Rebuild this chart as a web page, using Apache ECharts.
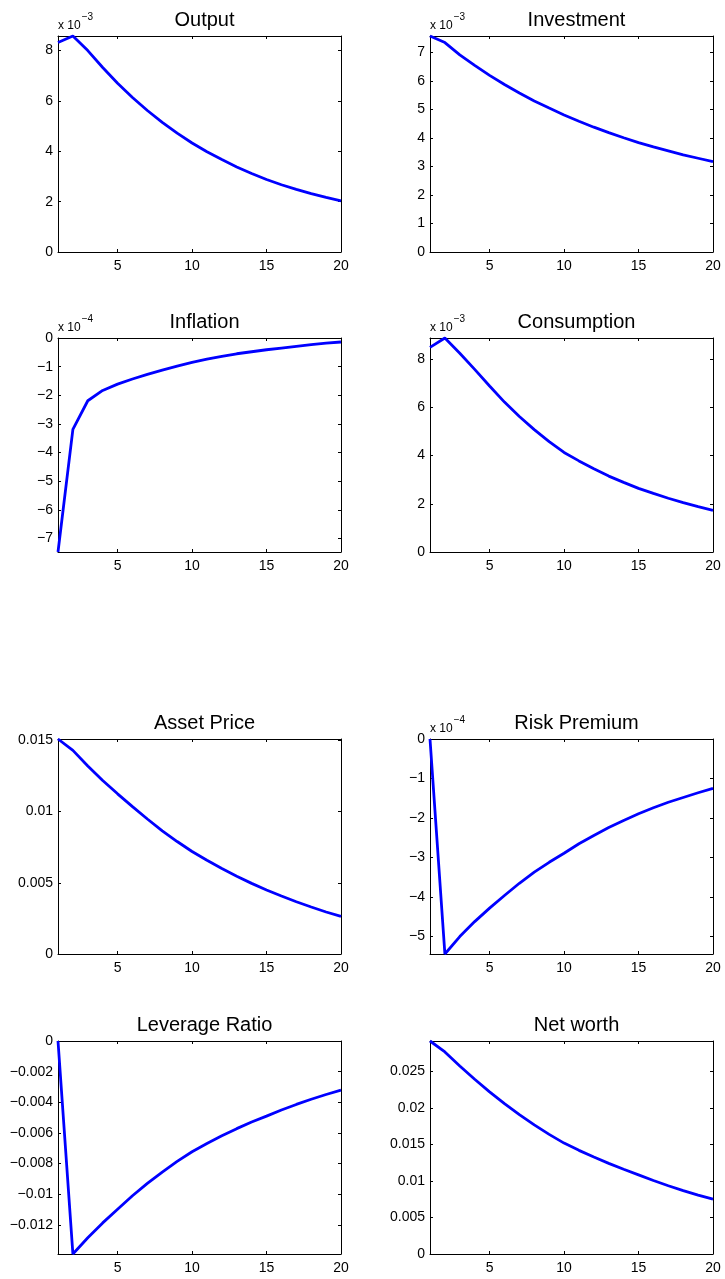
<!DOCTYPE html>
<html>
<head>
<meta charset="utf-8">
<title>Impulse responses</title>
<script src="https://cdn.jsdelivr.net/npm/echarts@6/dist/echarts.min.js"></script>
<style>
  html, body { margin: 0; padding: 0; background: #ffffff; }
  #chart { width: 725px; height: 1279px; }
</style>
</head>
<body>
<div id="chart"></div>
<script>
// Horizon (quarters after the shock)
const horizon = [1, 2, 3, 4, 5, 6, 7, 8, 9, 10, 11, 12, 13, 14, 15, 16, 17, 18, 19, 20];
const xTicks = [5, 10, 15, 20];

// Responses; panels with an exponent are stored in units of 10^exp
const output = [8.32, 8.58, 8.00, 7.33, 6.70, 6.14, 5.62, 5.15, 4.72, 4.33, 3.98, 3.67, 3.38, 3.12, 2.88, 2.67, 2.49, 2.32, 2.17, 2.03];          // x 10^-3
const investment = [7.58, 7.35, 6.92, 6.55, 6.20, 5.88, 5.58, 5.30, 5.05, 4.81, 4.59, 4.38, 4.19, 4.01, 3.84, 3.69, 3.55, 3.41, 3.29, 3.17];    // x 10^-3
const inflation = [-7.47, -3.19, -2.19, -1.83, -1.61, -1.43, -1.27, -1.12, -0.98, -0.85, -0.74, -0.64, -0.55, -0.48, -0.41, -0.35, -0.29, -0.23, -0.18, -0.14]; // x 10^-4
const consumption = [8.49, 8.88, 8.25, 7.58, 6.89, 6.22, 5.62, 5.08, 4.58, 4.13, 3.78, 3.45, 3.15, 2.89, 2.64, 2.43, 2.23, 2.05, 1.88, 1.73];   // x 10^-3
const assetPrice = [0.0151, 0.0143, 0.0132, 0.01218, 0.01125, 0.01035, 0.00948, 0.00865, 0.0079, 0.0072, 0.00658, 0.006, 0.00546, 0.00496, 0.0045, 0.00407, 0.00367, 0.0033, 0.00295, 0.00264];
const riskPremium = [0, -5.44, -5.00, -4.62, -4.28, -3.96, -3.65, -3.37, -3.12, -2.89, -2.65, -2.44, -2.24, -2.06, -1.89, -1.74, -1.60, -1.48, -1.36, -1.25]; // x 10^-4
const leverageRatio = [0, -0.0139, -0.01284, -0.01187, -0.01098, -0.0101, -0.00929, -0.00855, -0.00786, -0.00723, -0.00669, -0.00619, -0.00572, -0.00529, -0.0049, -0.0045, -0.00414, -0.0038, -0.00349, -0.00321];
const netWorth = [0.02914, 0.02764, 0.02573, 0.0239, 0.02218, 0.02056, 0.01906, 0.01766, 0.01637, 0.01517, 0.01418, 0.01326, 0.0124, 0.01159, 0.01083, 0.01006, 0.00934, 0.00868, 0.00806, 0.0075];

// Y tick values per panel
const outputTicks = [0, 2, 4, 6, 8];
const investmentTicks = [0, 1, 2, 3, 4, 5, 6, 7];
const inflationTicks = [-7, -6, -5, -4, -3, -2, -1, 0];
const consumptionTicks = [0, 2, 4, 6, 8];
const assetPriceTicks = [0, 0.005, 0.01, 0.015];
const riskPremiumTicks = [-5, -4, -3, -2, -1, 0];
const leverageTicks = [-0.012, -0.01, -0.008, -0.006, -0.004, -0.002, 0];
const netWorthTicks = [0, 0.005, 0.01, 0.015, 0.02, 0.025];

const panels = [
  { title: 'Output', values: output, ticks: outputTicks, exp: '\u22123' },
  { title: 'Investment', values: investment, ticks: investmentTicks, exp: '\u22123' },
  { title: 'Inflation', values: inflation, ticks: inflationTicks, exp: '\u22124' },
  { title: 'Consumption', values: consumption, ticks: consumptionTicks, exp: '\u22123' },
  { title: 'Asset Price', values: assetPrice, ticks: assetPriceTicks, exp: null },
  { title: 'Risk Premium', values: riskPremium, ticks: riskPremiumTicks, exp: '\u22124' },
  { title: 'Leverage Ratio', values: leverageRatio, ticks: leverageTicks, exp: null },
  { title: 'Net worth', values: netWorth, ticks: netWorthTicks, exp: null }
];

// Plot boxes: [left, top, width, height]
const colLeft = [58, 430];
const colWidth = [283, 283];
const rowTop = [36, 338, 739, 1041];
const rowHeight = [216, 214, 215, 213];

const FONT = '"Liberation Sans", Arial, Helvetica, sans-serif';
const INK = '#000000';

function fmtTick(v) {
  const r = Math.round(v * 1e6) / 1e6;
  return String(r).replace('-', '\u2212');
}

const grids = [], xAxes = [], yAxes = [], series = [], titles = [];

panels.forEach((p, i) => {
  const col = i % 2, row = Math.floor(i / 2);
  const left = colLeft[col], width = colWidth[col];
  const top = rowTop[row], height = rowHeight[row];
  grids.push({ left: left, top: top, width: width, height: height });

  const lo = Math.min(0, ...p.values);
  const hi = Math.max(0, ...p.values);

  const lineStyle = { color: INK, width: 1 };
  const tickStyle = { color: INK, width: 1 };

  // bottom x axis with labels
  xAxes.push({
    gridIndex: i, type: 'value', position: 'bottom', min: 1, max: 20,
    axisLine: { show: true, onZero: false, lineStyle: lineStyle },
    axisTick: { show: true, inside: true, length: 3, customValues: xTicks, lineStyle: tickStyle },
    axisLabel: { show: true, customValues: xTicks, margin: 7, color: INK, fontSize: 14, fontFamily: FONT },
    splitLine: { show: false }
  });
  // top x axis (box edge, ticks only)
  xAxes.push({
    gridIndex: i, type: 'value', position: 'top', min: 1, max: 20,
    axisLine: { show: true, onZero: false, lineStyle: lineStyle },
    axisTick: { show: true, inside: true, length: 3, customValues: xTicks, lineStyle: tickStyle },
    axisLabel: { show: false },
    splitLine: { show: false }
  });
  // left y axis with labels and optional exponent
  const yLeft = {
    gridIndex: i, type: 'value', position: 'left', min: lo, max: hi,
    axisLine: { show: true, onZero: false, lineStyle: lineStyle },
    axisTick: { show: true, inside: true, length: 3, customValues: p.ticks, lineStyle: tickStyle },
    axisLabel: {
      show: true, customValues: p.ticks, margin: 5, color: INK, fontSize: 14, fontFamily: FONT,
      formatter: fmtTick
    },
    splitLine: { show: false }
  };
  if (p.exp) {
    yLeft.name = '{a|x 10}{b|' + p.exp + '}';
    yLeft.nameLocation = 'end';
    yLeft.nameGap = 4;
    yLeft.nameTextStyle = {
      align: 'left', verticalAlign: 'bottom', color: INK, fontFamily: FONT,
      rich: {
        a: { fontSize: 12, lineHeight: 20, verticalAlign: 'bottom', color: INK, fontFamily: FONT },
        b: { fontSize: 10, lineHeight: 12, verticalAlign: 'top', color: INK, fontFamily: FONT, padding: [0, 0, 0, 1] }
      }
    };
  }
  yAxes.push(yLeft);
  // right y axis (box edge, ticks only)
  yAxes.push({
    gridIndex: i, type: 'value', position: 'right', min: lo, max: hi,
    axisLine: { show: true, onZero: false, lineStyle: lineStyle },
    axisTick: { show: true, inside: true, length: 3, customValues: p.ticks, lineStyle: tickStyle },
    axisLabel: { show: false },
    splitLine: { show: false }
  });

  series.push({
    type: 'line', name: p.title,
    xAxisIndex: 2 * i, yAxisIndex: 2 * i,
    data: horizon.map((h, k) => [h, p.values[k]]),
    showSymbol: false, symbol: 'none', clip: false, smooth: false,
    lineStyle: { color: '#0000ff', width: 2.8 },
    z: 1
  });

  titles.push({
    text: p.title, left: left + width / 2, top: top - 31, textAlign: 'center',
    textStyle: { color: INK, fontSize: 20, fontWeight: 'normal', fontFamily: FONT }
  });
});

const chart = echarts.init(document.getElementById('chart'), null, { renderer: 'canvas' });
chart.setOption({
  backgroundColor: '#ffffff',
  animation: false,
  title: titles,
  grid: grids,
  xAxis: xAxes,
  yAxis: yAxes,
  series: series
});
</script>
</body>
</html>
